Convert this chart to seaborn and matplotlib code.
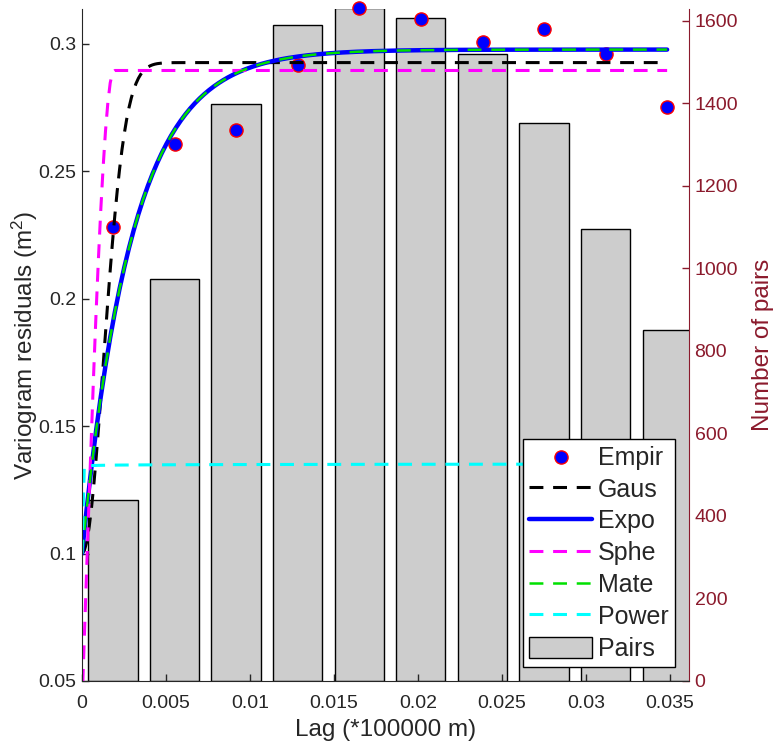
import numpy as np
import matplotlib
matplotlib.use("Agg")
import matplotlib.pyplot as plt
from matplotlib.patches import Patch
import seaborn as sns

# lag bin centres (*100000 m)
lags = [0.00184, 0.00551, 0.00917, 0.01284, 0.0165, 0.02017, 0.02384, 0.0275, 0.03117, 0.03483]
# empirical variogram of residuals (m^2)
empir = [0.228, 0.2607, 0.2661, 0.2919, 0.3141, 0.3098, 0.3008, 0.306, 0.2961, 0.2752]
# number of pairs per lag
pairs = [439, 975, 1399, 1590, 1632, 1607, 1519, 1352, 1095, 850]

# fitted model parameters: nugget, sill, range
gaus_par = (0.10, 0.2927, 0.00181)
expo_par = (0.10, 0.2978, 0.0030)
sphe_par = (0.04, 0.2896, 0.0019)
mate_par = (0.10, 0.2978, 0.0030)
# power model: nugget, coefficient, exponent
power_par = (0.10, 0.0356, 0.004)

dark_red = "#8B1A2C"

sns.set_style("white")
plt.rcParams["font.family"] = ["Liberation Sans", "DejaVu Sans"]
plt.rcParams["mathtext.default"] = "regular"
plt.rcParams["lines.scale_dashes"] = False


def gaussian(h, c0, s, a):
    return c0 + (s - c0) * (1 - np.exp(-(h / a) ** 2))


def exponential(h, c0, s, a):
    return c0 + (s - c0) * (1 - np.exp(-h / a))


def spherical(h, c0, s, a):
    r = np.minimum(h / a, 1.0)
    return c0 + (s - c0) * (1.5 * r - 0.5 * r ** 3)


def power(h, c0, b, alpha):
    return c0 + b * h ** alpha


h = np.linspace(0, lags[-1], 250)

fig = plt.figure(figsize=(7.75, 7.47), dpi=100)
ax = fig.add_axes([0.1058, 0.0884, 0.7832, 0.8991])
ax2 = ax.twinx()

# bars on right axis, drawn behind the variogram
sns.barplot(x=lags, y=pairs, native_scale=True, width=0.8, color="#cdcdcd",
            saturation=1, edgecolor="black", linewidth=1, ax=ax2)
ax.set_zorder(ax2.get_zorder() + 1)
ax.patch.set_visible(False)

dash = (0, (10, 7))
sns.scatterplot(x=lags, y=empir, s=90, color="blue", edgecolor="red",
                linewidth=1, clip_on=False, zorder=2, ax=ax, label="Empir")
sns.lineplot(x=h, y=gaussian(h, *gaus_par), color="black", linestyle=dash,
             linewidth=2.2, errorbar=None, ax=ax, label="Gaus")
sns.lineplot(x=h, y=exponential(h, *expo_par), color="blue", linewidth=3.2,
             errorbar=None, ax=ax, label="Expo")
sns.lineplot(x=h, y=spherical(h, *sphe_par), color="magenta", linestyle=dash,
             linewidth=2.2, errorbar=None, ax=ax, label="Sphe")
sns.lineplot(x=h, y=exponential(h, *mate_par), color="#00e000", linestyle=dash,
             linewidth=1.8, errorbar=None, ax=ax, label="Mate")
sns.lineplot(x=h, y=power(h, *power_par), color="cyan", linestyle=dash,
             linewidth=2.2, errorbar=None, ax=ax, label="Power")

ax.set_xlim(0, 0.03613)
ax.set_ylim(0.05, 0.3136)
ax2.set_ylim(0, 1628)

ax.set_xticks([0, 0.005, 0.01, 0.015, 0.02, 0.025, 0.03, 0.035])
ax.set_xticklabels(["0", "0.005", "0.01", "0.015", "0.02", "0.025", "0.03", "0.035"])
ax.set_yticks([0.05, 0.1, 0.15, 0.2, 0.25, 0.3])
ax.set_yticklabels(["0.05", "0.1", "0.15", "0.2", "0.25", "0.3"])
ax2.set_yticks(range(0, 1601, 200))

ax.tick_params(axis="both", direction="in", length=5, width=1, labelsize=14,
               colors="#262626", pad=4, left=True, bottom=True)
ax.tick_params(axis="x", pad=10)
ax2.tick_params(axis="y", direction="in", length=5, width=1, labelsize=14,
                colors=dark_red, pad=4, right=True)
ax2.set_xlabel("")

ax.set_xlabel("Lag (*100000 m)", fontsize=17.5, color="#262626", labelpad=5)
ax.set_ylabel("Variogram residuals (m$^2$)", fontsize=17.5, color="#262626", labelpad=-1)
ax2.set_ylabel("Number of pairs", fontsize=17.5, color=dark_red, labelpad=10)

for a in (ax, ax2):
    a.spines["top"].set_visible(False)
ax.spines["right"].set_visible(False)
ax.spines["left"].set_color("#262626")
ax.spines["bottom"].set_color("#262626")
ax2.spines["left"].set_visible(False)
ax2.spines["right"].set_color(dark_red)
ax2.spines["bottom"].set_visible(False)

handles, labels = ax.get_legend_handles_labels()
handles.append(Patch(facecolor="#cdcdcd", edgecolor="black", linewidth=1))
labels.append("Pairs")
leg = ax.legend(handles, labels, loc="lower right", fontsize=18, frameon=True,
                fancybox=False, framealpha=1, edgecolor="black",
                handlelength=2.5, handleheight=0.95, handletextpad=0.25,
                labelspacing=0.3, borderaxespad=0.55, borderpad=0.25)
leg.get_frame().set_linewidth(1)

fig.savefig("out.png", dpi=100)
